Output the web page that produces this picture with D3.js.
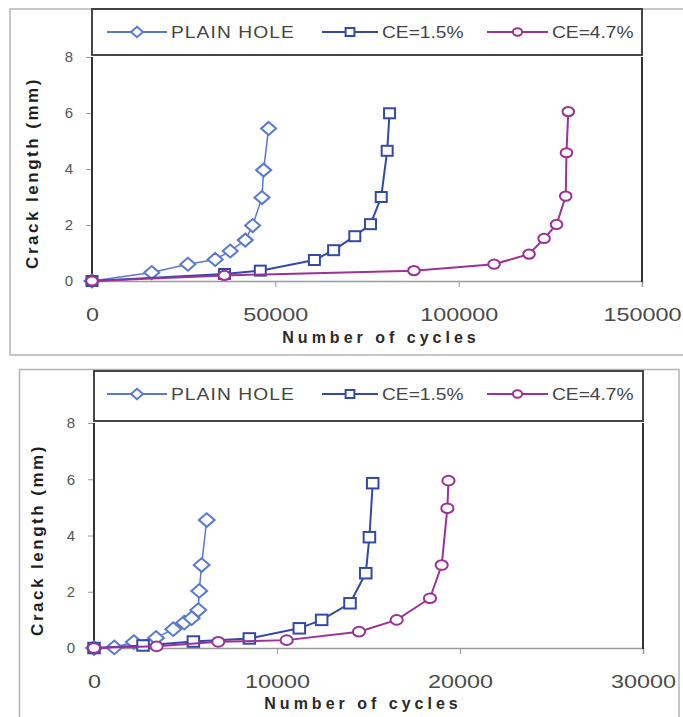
<!DOCTYPE html>
<meta charset="utf-8">
<head>
<script src="https://d3js.org/d3.v7.min.js"></script>
<style>
  body { margin: 0; background: #fff; }
  svg { display: block; }
  text { font-family: "Liberation Sans", Arial, sans-serif; }
</style>
</head>
<body>
<script>
"use strict";

// series names (legend order)
var seriesNames = ["PLAIN HOLE", "CE=1.5%", "CE=4.7%"];

// top chart: [number of cycles, crack length mm]
var topPlain = [[0, 0], [16300, 0.3], [26150, 0.6], [33600, 0.77], [37700, 1.07],
  [41800, 1.46], [43800, 1.98], [46360, 2.98], [46800, 3.96], [48170, 5.45]];
var topCe15 = [[0, 0], [36150, 0.25], [45900, 0.37], [60650, 0.75], [65900, 1.1],
  [71670, 1.6], [75960, 2.03], [78880, 3.0], [80500, 4.65], [81150, 5.99]];
var topCe47 = [[0, 0], [36100, 0.2], [87800, 0.37], [109650, 0.6], [119200, 0.96],
  [123300, 1.52], [126700, 2.02], [129200, 3.03], [129400, 4.58], [129900, 6.05]];

// bottom chart
var botPlain = [[0, 0], [1110, 0.02], [2180, 0.21], [3390, 0.36], [4330, 0.67],
  [4930, 0.9], [5340, 1.06], [5700, 1.35], [5750, 2.03], [5880, 2.95], [6160, 4.55]];
var botCe15 = [[0, 0], [2680, 0.09], [5430, 0.23], [8490, 0.34], [11220, 0.7],
  [12440, 1.0], [13990, 1.59], [14850, 2.66], [15050, 3.94], [15230, 5.86]];
var botCe47 = [[0, 0], [3420, 0.06], [6790, 0.22], [10530, 0.28], [14480, 0.58],
  [16540, 1.0], [18360, 1.77], [19000, 2.95], [19310, 4.97], [19370, 5.95]];

var topXTicks = [0, 50000, 100000, 150000];
var botXTicks = [0, 10000, 20000, 30000];
var yTicks = [0, 2, 4, 6, 8];

var colors = ["#5878d2", "#3448a6", "#9c3196"];
var lineWidths = [1.5, 2, 2];

var width = 683, height = 717;
var svg = d3.select("body").append("svg")
  .attr("width", width)
  .attr("height", height);

function marker(g, k, x, y, s) {
  var m;
  if (k === 0) {
    m = g.append("path")
      .attr("d", "M0," + (-6.5 * s) + "L" + (7.5 * s) + ",0L0," + (6.5 * s) + "L" + (-7.5 * s) + ",0Z");
  } else if (k === 1) {
    m = g.append("rect")
      .attr("x", -5.5 * s).attr("y", -5 * s)
      .attr("width", 11 * s).attr("height", 10 * s);
  } else {
    m = g.append("ellipse")
      .attr("rx", 5.8 * s).attr("ry", 4.6 * s);
  }
  m.attr("transform", "translate(" + x + "," + y + ")")
    .attr("fill", "#fff")
    .attr("stroke", colors[k])
    .attr("stroke-width", 2);
}

function drawPanel(cfg) {
  // outer frame
  svg.append("rect")
    .attr("x", cfg.frame[0]).attr("y", cfg.frame[1])
    .attr("width", cfg.frame[2]).attr("height", cfg.frame[3])
    .attr("fill", "none").attr("stroke", "#b4b4b4").attr("stroke-width", 1.5);

  var x = d3.scaleLinear().domain([0, cfg.xMax]).range([cfg.left, cfg.right]);
  var y = d3.scaleLinear().domain([0, 8]).range([cfg.bottom, cfg.top]);

  // legend box
  svg.append("rect")
    .attr("x", cfg.left).attr("y", cfg.legendTop)
    .attr("width", cfg.right - cfg.left).attr("height", cfg.top - 2 - cfg.legendTop)
    .attr("fill", "#fff").attr("stroke", "#333").attr("stroke-width", 1.8);

  var ly = cfg.legendTop + 23;
  var items = [[107, 167, 171], [322, 378, 382], [487, 548, 552]];
  items.forEach(function (it, k) {
    svg.append("line")
      .attr("x1", it[0]).attr("x2", it[1]).attr("y1", ly).attr("y2", ly)
      .attr("stroke", colors[k]).attr("stroke-width", 1.8);
    marker(svg, k, (it[0] + it[1]) / 2, ly, 0.8);
    svg.append("text")
      .attr("transform", "translate(" + it[2] + "," + (ly + 6) + ") scale(1.2,1)")
      .attr("fill", "#444")
      .style("font-size", "16px")
      .style("letter-spacing", k === 0 ? "0.9px" : "0px")
      .text(seriesNames[k]);
  });

  // x axis
  var xAxis = svg.append("g")
    .attr("transform", "translate(0," + cfg.bottom + ")")
    .call(d3.axisBottom(x).tickValues(cfg.xTicks).tickSize(6).tickFormat(d3.format("d")));
  xAxis.select(".domain").attr("stroke", "#9a9a9a").attr("stroke-width", 1.5);
  xAxis.selectAll(".tick line").attr("stroke", "#9a9a9a");
  xAxis.selectAll(".tick text")
    .attr("y", 27)
    .attr("transform", "scale(1.3,1)")
    .attr("fill", "#4a4a4a")
    .style("font-size", "18px");

  // y axis
  var yAxis = svg.append("g")
    .attr("transform", "translate(" + cfg.left + ",0)")
    .call(d3.axisLeft(y).tickValues(yTicks).tickSize(6).tickFormat(d3.format("d")));
  yAxis.select(".domain").remove();
  yAxis.selectAll(".tick line").attr("stroke", "#9a9a9a");
  yAxis.selectAll(".tick text")
    .attr("x", -19)
    .attr("fill", "#555")
    .style("font-size", "15px");

  // plot borders (left and right)
  svg.append("line")
    .attr("x1", cfg.left).attr("x2", cfg.left).attr("y1", cfg.top).attr("y2", cfg.bottom)
    .attr("stroke", "#333").attr("stroke-width", 2);
  svg.append("line")
    .attr("x1", cfg.right).attr("x2", cfg.right).attr("y1", cfg.top).attr("y2", cfg.bottom + 1)
    .attr("stroke", "#333").attr("stroke-width", 2);

  // series
  var line = d3.line().x(function (d) { return x(d[0]); }).y(function (d) { return y(d[1]); });
  cfg.series.forEach(function (s, k) {
    svg.append("path")
      .datum(s)
      .attr("d", line)
      .attr("fill", "none")
      .attr("stroke", colors[k])
      .attr("stroke-width", lineWidths[k]);
    var g = svg.append("g");
    s.forEach(function (d) { marker(g, k, x(d[0]), y(d[1]), cfg.ms); });
  });

  // titles
  svg.append("text")
    .attr("x", cfg.xTitle[0]).attr("y", cfg.xTitle[1])
    .attr("text-anchor", "middle")
    .attr("fill", "#2a2a2a")
    .style("font-size", "16px").style("font-weight", "bold")
    .style("letter-spacing", "4px")
    .text("Number of cycles");
  svg.append("text")
    .attr("transform", "translate(" + cfg.yTitle[0] + "," + cfg.yTitle[1] + ") rotate(-90)")
    .attr("text-anchor", "middle")
    .attr("fill", "#1e1e1e")
    .style("font-size", "17px").style("font-weight", "bold")
    .style("letter-spacing", "2.5px")
    .text("Crack length  (mm)");
}

drawPanel({
  frame: [10, 9, 700, 346],
  left: 92, right: 642, top: 57, bottom: 281, legendTop: 9,
  xMax: 150000, xTicks: topXTicks,
  series: [topPlain, topCe15, topCe47], ms: 1,
  xTitle: [381, 343], yTitle: [38, 173]
});

drawPanel({
  frame: [19.5, 369.5, 659.5, 360],
  left: 94, right: 643, top: 423, bottom: 648, legendTop: 371,
  xMax: 30000, xTicks: botXTicks,
  series: [botPlain, botCe15, botCe47], ms: 1.05,
  xTitle: [363, 709], yTitle: [43, 540]
});
</script>
</body>
